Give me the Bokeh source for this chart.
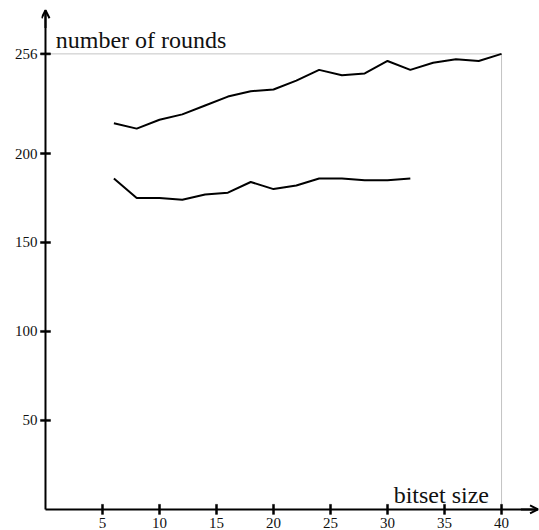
from bokeh.plotting import figure
from bokeh.models import Range1d, FixedTicker, Arrow, OpenHead, Label
from bokeh.embed import file_html
from bokeh.resources import INLINE

# data
bitset_upper = [6, 8, 10, 12, 14, 16, 18, 20, 22, 24, 26, 28, 30, 32, 34, 36, 38, 40]
rounds_upper = [217, 214, 219, 222, 227, 232, 235, 236, 241, 247, 244, 245, 252, 247, 251, 253, 252, 256]
bitset_lower = [6, 8, 10, 12, 14, 16, 18, 20, 22, 24, 26, 28, 30, 32]
rounds_lower = [186, 175, 175, 174, 177, 178, 184, 180, 182, 186, 186, 185, 185, 186]
x_ticks = [5, 10, 15, 20, 25, 30, 35, 40]
y_ticks = [50, 100, 150, 200, 256]
max_bits = 40
max_rounds = 256
x_min, x_max = -0.35, 43.33
y_min, y_max = -4.0, 286
x_arrow = 43.2
y_arrow = 280.5

FONT = "Liberation Serif"

p = figure(width=539, height=530, output_backend="svg", toolbar_location=None,
           x_range=Range1d(x_min, x_max), y_range=Range1d(y_min, y_max),
           min_border_left=41, min_border_right=0, min_border_top=0, min_border_bottom=0)
p.outline_line_color = None
p.xgrid.visible = False
p.ygrid.visible = False

for ax in (p.xaxis[0], p.yaxis[0]):
    ax.axis_line_color = None
    ax.major_tick_line_color = None
    ax.major_tick_in = 0
    ax.major_tick_out = 0
    ax.minor_tick_line_color = None
    ax.major_label_text_font = FONT
    ax.major_label_text_font_size = "15px"
    ax.major_label_text_color = "#111111"
p.xaxis[0].major_label_standoff = 1
p.yaxis[0].major_label_standoff = 4
p.xaxis[0].ticker = FixedTicker(ticks=x_ticks, minor_ticks=[])
p.yaxis[0].ticker = FixedTicker(ticks=y_ticks, minor_ticks=[])

# reference lines
p.line([0, max_bits], [max_rounds, max_rounds], line_color="#c4c4c4", line_width=1)
p.line([max_bits, max_bits], [0, max_rounds], line_color="#c4c4c4", line_width=1)

# series
p.line(bitset_upper, rounds_upper, line_color="black", line_width=2)
p.line(bitset_lower, rounds_lower, line_color="black", line_width=2)

# axis lines
p.line([0, 0], [0, y_arrow], line_color="black", line_width=2)
p.line([0, x_arrow], [0, 0], line_color="black", line_width=2)

# arrow heads (short bodies near the tips)
p.add_layout(Arrow(end=OpenHead(size=8, line_width=2, line_color="black"),
                   x_start=0, y_start=y_arrow - 10, x_end=0, y_end=y_arrow,
                   line_width=2, line_color="black"))
p.add_layout(Arrow(end=OpenHead(size=8, line_width=2, line_color="black"),
                   x_start=x_arrow - 1.5, y_start=0, x_end=x_arrow, y_end=0,
                   line_width=2, line_color="black"))

# tick marks crossing the axes (filled rects sized in screen pixels)
p.rect(x=[0] * len(y_ticks), y=y_ticks, width=10, height=2,
       width_units="screen", height_units="screen",
       fill_color="black", line_color="black", line_width=0.5, level="overlay")
p.rect(x=x_ticks, y=[0] * len(x_ticks), width=2, height=10,
       width_units="screen", height_units="screen",
       fill_color="black", line_color="black", line_width=0.5, level="overlay")

# axis titles
p.add_layout(Label(x=0.9, y=264, text="number of rounds", text_font=FONT,
                   text_font_size="24px", text_baseline="alphabetic", text_color="#111111"))
p.add_layout(Label(x=38.9, y=8, text="bitset size", text_font=FONT, text_align="right",
                   text_font_size="24px", text_baseline="alphabetic", text_color="#111111"))

open("out.html", "w").write(file_html(p, INLINE))
